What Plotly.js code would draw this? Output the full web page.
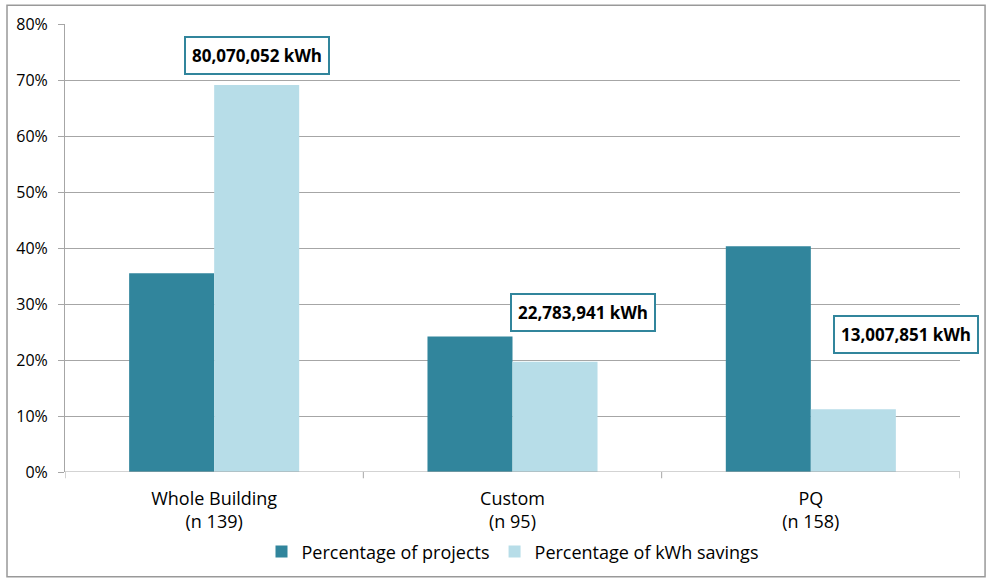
<!DOCTYPE html>
<html>
<head>
<meta charset="utf-8">
<script src="https://cdn.plot.ly/plotly-3.0.1.min.js"></script>
<style>html,body{margin:0;padding:0;background:#fff;}#chart{width:992px;height:580px;}</style>
</head>
<body>
<div id="chart"></div>
<script>
const categories = ["Whole Building<br>(n 139)", "Custom<br>(n 95)", "PQ<br>(n 158)"];
const pctProjects = [0.355, 0.242, 0.403];
const pctKwh = [0.691, 0.197, 0.112];
const kwhLabels = ["80,070,052 kWh", "22,783,941 kWh", "13,007,851 kWh"];
const seriesNames = ["Percentage of projects", "Percentage of kWh savings"];
const yTicks = [0, 0.1, 0.2, 0.3, 0.4, 0.5, 0.6, 0.7, 0.8];

const FONT = "'Open Sans', 'Noto Sans', sans-serif";
const idx = categories.map((c, i) => i);

const traces = [
  {type: "bar", x: idx, y: pctProjects, name: seriesNames[0],
   marker: {color: "#31859c"}, hoverinfo: "y"},
  {type: "bar", x: idx, y: pctKwh, name: seriesNames[1],
   marker: {color: "#b7dde8"}, hoverinfo: "y"}
];

const annPos = [[0.145, 0.743], [0.235, 0.284], [0.32, 0.245]];
const annotations = kwhLabels.map((t, i) => ({
  x: idx[i] + annPos[i][0], y: annPos[i][1], xref: "x", yref: "y",
  text: "<b>" + t + "</b>", showarrow: false,
  font: {family: FONT, size: 17, color: "#000"},
  bordercolor: "#31859c", borderwidth: 2, borderpad: 6, bgcolor: "#fff"
}));

const layout = {
  width: 992, height: 580,
  margin: {l: 65, r: 32, t: 24, b: 108, autoexpand: false},
  paper_bgcolor: "#fff", plot_bgcolor: "#fff",
  font: {family: FONT, size: 16, color: "#000"},
  barmode: "group", bargap: 0.43, bargroupgap: 0,
  showlegend: true,
  legend: {orientation: "h", x: 0.5, xanchor: "center", y: -0.137, yanchor: "top",
           font: {family: FONT, size: 18, color: "#000"}, itemwidth: 30, traceorder: "normal"},
  xaxis: {type: "linear", tickmode: "array", tickvals: idx, ticktext: categories,
          range: [-0.5, 2.5], showgrid: false, zeroline: false, automargin: false,
          showline: false, ticks: "", ticklabelstandoff: 14,
          tickfont: {family: FONT, size: 18, color: "#000"}},
  yaxis: {range: [0, 0.8], tickmode: "array", tickvals: yTicks, tickformat: ".0%",
          showgrid: true, gridcolor: "#a6a6a6", gridwidth: 1, zeroline: false, automargin: false,
          showline: true, linecolor: "#a6a6a6", linewidth: 1,
          ticks: "outside", ticklen: 6, tickcolor: "#a6a6a6", ticklabelstandoff: 7,
          tickfont: {family: FONT, size: 16, color: "#000"}},
  shapes: [
    {type: "line", xref: "paper", yref: "y", x0: 0, x1: 1, y0: 0, y1: 0,
     line: {color: "#a6a6a6", width: 1}},
    ...[0, 1, 2, 3].map(k => ({type: "line", xref: "x", yref: "paper",
     x0: k - 0.5, x1: k - 0.5, y0: 0, y1: -0.014, line: {color: "#a6a6a6", width: 1}})),
    {type: "rect", xref: "paper", yref: "paper", x0: -0.0648, x1: 1.028, y0: -0.234, y1: 1.042,
     line: {color: "#999", width: 1.5}, fillcolor: "rgba(0,0,0,0)"}
  ],
  annotations: annotations
};

Plotly.newPlot("chart", traces, layout, {displayModeBar: false, staticPlot: true});
</script>
</body>
</html>
